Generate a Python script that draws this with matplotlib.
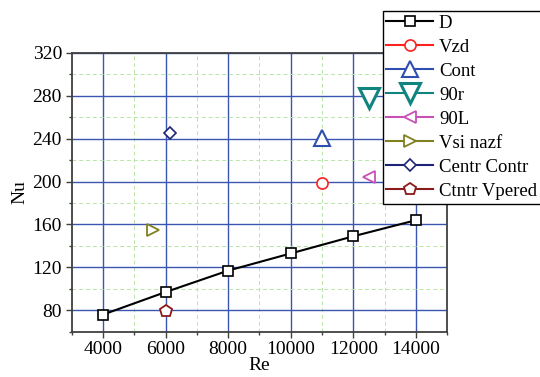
# Nu vs Re chart for several configurations
import matplotlib.pyplot as plt
from matplotlib.ticker import MultipleLocator

plt.rcParams["font.family"] = ["Liberation Serif", "DejaVu Serif"]
plt.rcParams["font.size"] = 14

# Data
re_d = [4000, 6000, 8000, 10000, 12000, 14000]
nu_d = [76, 97, 117, 133, 149, 164]

re_vzd, nu_vzd = [11000], [199]
re_cont, nu_cont = [11000], [241]
re_90r, nu_90r = [12500], [278]
re_90l, nu_90l = [12500], [204]
re_vsi, nu_vsi = [5600], [155]
re_centr, nu_centr = [6150], [245]
re_ctntr, nu_ctntr = [6000], [79]

fig = plt.figure(figsize=(5.4, 3.77), dpi=100)
ax = fig.add_axes([0.1328, 0.120, 0.6955, 0.740])

# grid
ax.xaxis.set_major_locator(MultipleLocator(2000))
ax.xaxis.set_minor_locator(MultipleLocator(1000))
ax.yaxis.set_major_locator(MultipleLocator(40))
ax.yaxis.set_minor_locator(MultipleLocator(20))
ax.grid(which="major", color="#3a56b0", linewidth=1.0, zorder=0)
ax.grid(which="minor", color="#b8e6a8", linewidth=0.7, linestyle=(0, (4, 3)), zorder=0)
ax.set_axisbelow(True)

ax.plot(re_d, nu_d, color="black", lw=1.5, marker="s", ms=7, mfc="white",
        mec="black", mew=1.2, label="D", zorder=3)
ax.plot(re_vzd, nu_vzd, color="#ff2020", marker="o", ms=8, mfc="white",
        mew=1.2, label="Vzd", zorder=3)
ax.plot(re_cont, nu_cont, color="#2e4fb0", marker="^", ms=11, mfc="white",
        mew=1.5, label="Cont", zorder=3)
ax.plot(re_90r, nu_90r, color="#108580", marker="v", ms=15, mfc="white",
        mew=2.2, label="90r", zorder=3)
ax.plot(re_90l, nu_90l, color="#c850b8", marker="<", ms=9, mfc="white",
        mew=1.3, label="90L", zorder=3)
ax.plot(re_vsi, nu_vsi, color="#808020", marker=">", ms=9, mfc="white",
        mew=1.3, label="Vsi nazf", zorder=3)
ax.plot(re_centr, nu_centr, color="#1c2478", marker="D", ms=6.5, mfc="white",
        mew=1.2, label="Centr Contr", zorder=3)
ax.plot(re_ctntr, nu_ctntr, color="#8b1a1a", marker="p", ms=9, mfc="white",
        mew=1.3, label="Ctntr Vpered", zorder=3)

ax.set_xlim(3000, 15000)
ax.set_ylim(60, 320)
ax.set_xticks(range(4000, 14001, 2000))
ax.set_yticks(range(80, 321, 40))

for s in ax.spines.values():
    s.set_color("#404040")
    s.set_linewidth(1.3)
ax.tick_params(which="major", direction="out", length=4, width=1, color="#404040", pad=3)
ax.tick_params(which="minor", direction="out", length=2.5, width=1, color="#404040")

ax.set_xlabel("Re", labelpad=-1)
ax.set_ylabel("Nu", labelpad=3)

leg = fig.legend(loc="upper left", bbox_to_anchor=(0.7087, 0.9716),
                 bbox_transform=fig.transFigure, borderaxespad=0,
                 handlelength=2.5, handletextpad=0.3, borderpad=0.2,
                 labelspacing=0.37, fancybox=False, framealpha=1,
                 edgecolor="black", fontsize=13.5)
leg.get_frame().set_linewidth(1.0)

plt.savefig("out.png", dpi=100)
